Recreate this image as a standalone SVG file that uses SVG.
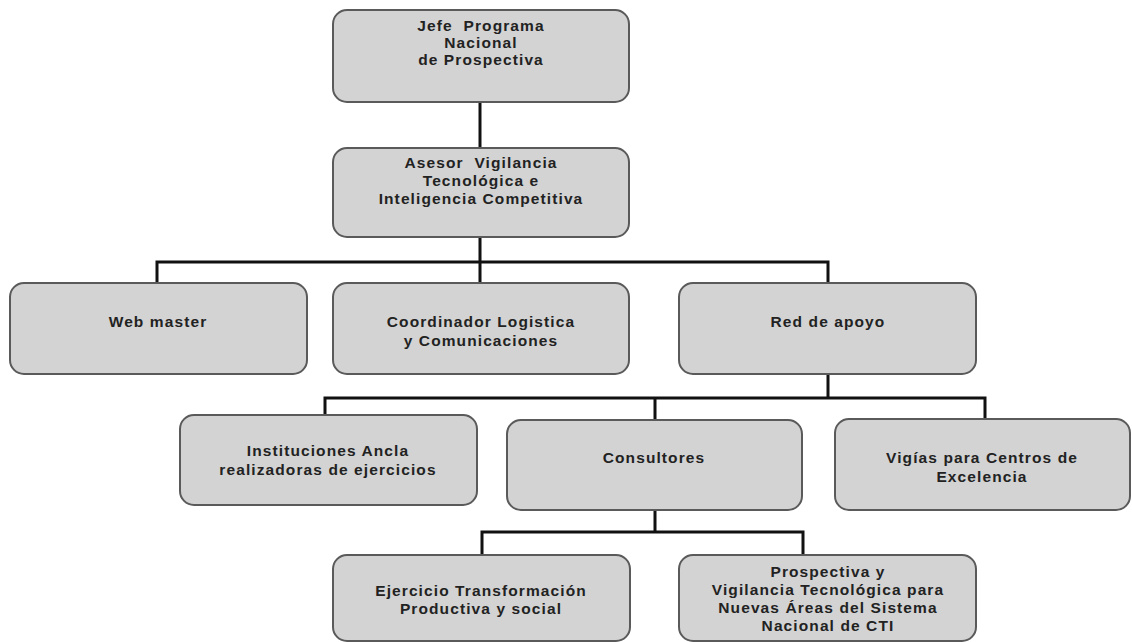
<svg xmlns="http://www.w3.org/2000/svg" width="1132" height="642" viewBox="0 0 1132 642">
<style>
.box{fill:#d3d3d3;stroke:#5a5a5a;stroke-width:2}
.t{font-family:"Liberation Sans",Arial,sans-serif;font-weight:bold;font-size:15.5px;fill:#222;text-anchor:middle;letter-spacing:1.1px;white-space:pre}
.c{fill:none;stroke:#111;stroke-width:3}
</style>
<rect width="1132" height="642" fill="#ffffff"/>
<g id="connectors">
<path class="c" d="M480 102V147"/>
<path class="c" d="M480 237V262M157 283V262H828V283M480 262V283"/>
<path class="c" d="M828 374V398M325 415V398H985V419M655 398V420"/>
<path class="c" d="M655 510V532M482 555V532H803V555"/>
</g>
<g id="jefe"><rect class="box" x="333" y="10" width="296" height="92" rx="14"/>
<text class="t" x="481" y="31">Jefe  Programa</text><text class="t" x="481" y="48">Nacional</text><text class="t" x="481" y="65">de Prospectiva</text></g>
<g id="asesor"><rect class="box" x="333" y="148" width="296" height="89" rx="14"/>
<text class="t" x="481" y="168">Asesor  Vigilancia</text><text class="t" x="481" y="186">Tecnológica e</text><text class="t" x="481" y="204">Inteligencia Competitiva</text></g>
<g id="webmaster"><rect class="box" x="10" y="283" width="297" height="91" rx="14"/>
<text class="t" x="158" y="327">Web master</text></g>
<g id="coordinador"><rect class="box" x="333" y="283" width="296" height="91" rx="14"/>
<text class="t" x="481" y="327">Coordinador Logistica</text><text class="t" x="481" y="346">y Comunicaciones</text></g>
<g id="red"><rect class="box" x="679" y="283" width="297" height="91" rx="14"/>
<text class="t" x="828" y="327">Red de apoyo</text></g>
<g id="instituciones"><rect class="box" x="180" y="415" width="297" height="90" rx="14"/>
<text class="t" x="328" y="456">Instituciones Ancla</text><text class="t" x="328" y="475">realizadoras de ejercicios</text></g>
<g id="consultores"><rect class="box" x="507" y="420" width="295" height="90" rx="14"/>
<text class="t" x="654" y="463">Consultores</text></g>
<g id="vigias"><rect class="box" x="835" y="419" width="295" height="91" rx="14"/>
<text class="t" x="982" y="463">Vigías para Centros de</text><text class="t" x="982" y="482">Excelencia</text></g>
<g id="ejercicio"><rect class="box" x="333" y="555" width="297" height="86" rx="14"/>
<text class="t" x="481" y="596">Ejercicio Transformación</text><text class="t" x="481" y="614">Productiva y social</text></g>
<g id="prospectiva"><rect class="box" x="679" y="555" width="297" height="86" rx="14"/>
<text class="t" x="828" y="577">Prospectiva y</text><text class="t" x="828" y="595">Vigilancia Tecnológica para</text><text class="t" x="828" y="613">Nuevas Áreas del Sistema</text><text class="t" x="828" y="631">Nacional de CTI</text></g>
</svg>
